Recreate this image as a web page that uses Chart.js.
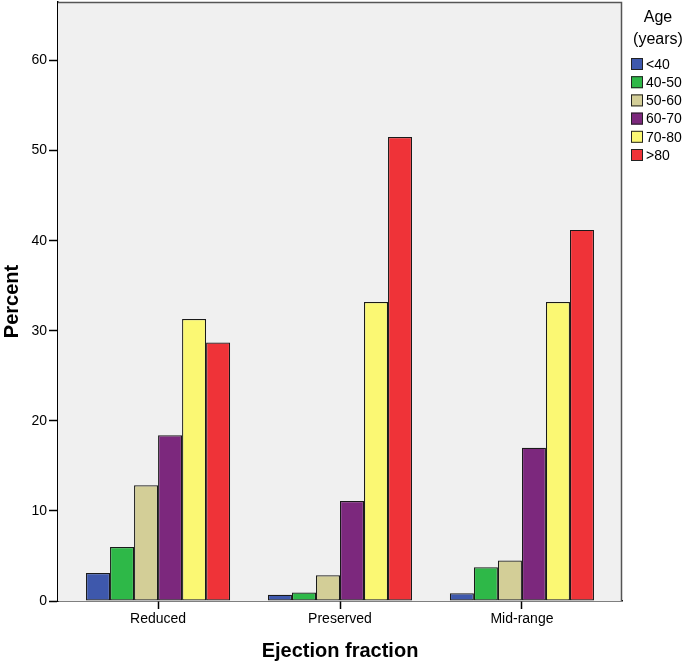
<!DOCTYPE html>
<html>
<head>
<meta charset="utf-8">
<script src="https://cdn.jsdelivr.net/npm/chart.js@4/dist/chart.umd.min.js"></script>
<style>
html,body{margin:0;padding:0;background:#fff;}
canvas{display:block;}
</style>
</head>
<body>
<canvas id="c" width="685" height="663"></canvas>
<script>
const categories = ['Reduced', 'Preserved', 'Mid-range'];
const ageGroups = ['<40', '40-50', '50-60', '60-70', '70-80', '>80'];
const legendTitle = ['Age', '(years)'];
const yTicks = [0, 10, 20, 30, 40, 50, 60];
const ageLt40 = [3.1, 0.7, 0.85];
const age40to50 = [6.0, 0.95, 3.75];
const age50to60 = [12.85, 2.85, 4.5];
const age60to70 = [18.4, 11.1, 17.0];
const age70to80 = [31.3, 33.2, 33.2];
const ageGt80 = [28.7, 51.5, 41.2];
const colors = ['#3E58AC', '#2EB848', '#D3CE97', '#7C287D', '#FBF873', '#EF3338'];

const series = [ageLt40, age40to50, age50to60, age60to70, age70to80, ageGt80];
const FONT = "'Liberation Sans', Arial, sans-serif";

const datasets = series.map((vals, k) => ({
  label: ageGroups[k],
  data: vals.map((v, i) => ({ x: i, y: v })),
  backgroundColor: colors[k],
  borderColor: '#1a1a1a',
  borderWidth: 1.2,
  borderSkipped: false,
  categoryPercentage: 0.792,
  barPercentage: 1.0
}));

const plotBox = {
  id: 'plotBox',
  beforeDatasetsDraw(chart) {
    const { ctx, chartArea: a } = chart;
    ctx.save();
    ctx.fillStyle = '#f0f0f0';
    ctx.fillRect(a.left, a.top, a.right - a.left, a.bottom - a.top);
    ctx.restore();
  },
  afterDraw(chart) {
    const { ctx, chartArea: a } = chart;
    ctx.save();
    ctx.strokeStyle = '#555';
    ctx.lineWidth = 1.5;
    ctx.beginPath();
    ctx.moveTo(a.left, a.top + 0.5);
    ctx.lineTo(a.right - 0.5, a.top + 0.5);
    ctx.lineTo(a.right - 0.5, a.bottom);
    ctx.stroke();
    // legend
    ctx.fillStyle = '#000';
    ctx.font = '16px ' + FONT;
    ctx.textAlign = 'center';
    ctx.textBaseline = 'middle';
    ctx.fillText(legendTitle[0], 658, 18);
    ctx.fillText(legendTitle[1], 658, 40);
    ctx.font = '14px ' + FONT;
    ctx.textAlign = 'left';
    chart.data.datasets.forEach((ds, i) => {
      const cy = 64 + i * 18.2;
      ctx.fillStyle = ds.backgroundColor;
      ctx.fillRect(631, cy - 6, 12, 12);
      ctx.strokeStyle = '#222';
      ctx.lineWidth = 1;
      ctx.strokeRect(631.5, cy - 5.5, 11, 11);
      ctx.fillStyle = '#000';
      ctx.fillText(ds.label, 646, cy + 1);
    });
    ctx.restore();
  }
};

new Chart(document.getElementById('c'), {
  type: 'bar',
  data: { datasets },
  plugins: [plotBox],
  options: {
    responsive: false,
    animation: false,
    layout: { padding: { top: 2, right: 63, left: 0, bottom: 0 } },
    plugins: { legend: { display: false }, tooltip: { enabled: false } },
    scales: {
      x: {
        type: 'linear',
        min: -0.55,
        max: 2.55,
        offset: false,
        afterBuildTicks: (axis) => { axis.ticks = categories.map((c, i) => ({ value: i })); },
        afterFit: (scale) => { scale.height = 62; scale.paddingLeft = 0; scale.paddingRight = 0; },
        ticks: {
          callback: (v) => categories[v],
          color: '#000',
          font: { family: FONT, size: 14 },
          padding: 2,
          maxRotation: 0,
          autoSkip: false
        },
        grid: { drawOnChartArea: false, offset: false, tickLength: 8, color: '#000', tickWidth: 1.5 },
        border: { color: '#000', width: 1.5 },
        title: {
          display: true,
          text: 'Ejection fraction',
          color: '#000',
          font: { family: FONT, size: 20, weight: 'bold' },
          padding: { top: 0, bottom: 0 }
        }
      },
      y: {
        min: 0,
        max: 66.5,
        afterBuildTicks: (axis) => { axis.ticks = yTicks.map(v => ({ value: v })); },
        afterFit: (scale) => { scale.width = 58; scale.paddingTop = 0; scale.paddingBottom = 0; },
        ticks: {
          color: '#000',
          font: { family: FONT, size: 14 },
          padding: 2
        },
        grid: { drawOnChartArea: false, tickLength: 9, color: '#000', tickWidth: 1.5 },
        border: { color: '#000', width: 1.5 },
        title: {
          display: true,
          text: 'Percent',
          color: '#000',
          font: { family: FONT, size: 20, weight: 'bold' },
          padding: { top: 0, bottom: 0 }
        }
      }
    }
  }
});
</script>
</body>
</html>
